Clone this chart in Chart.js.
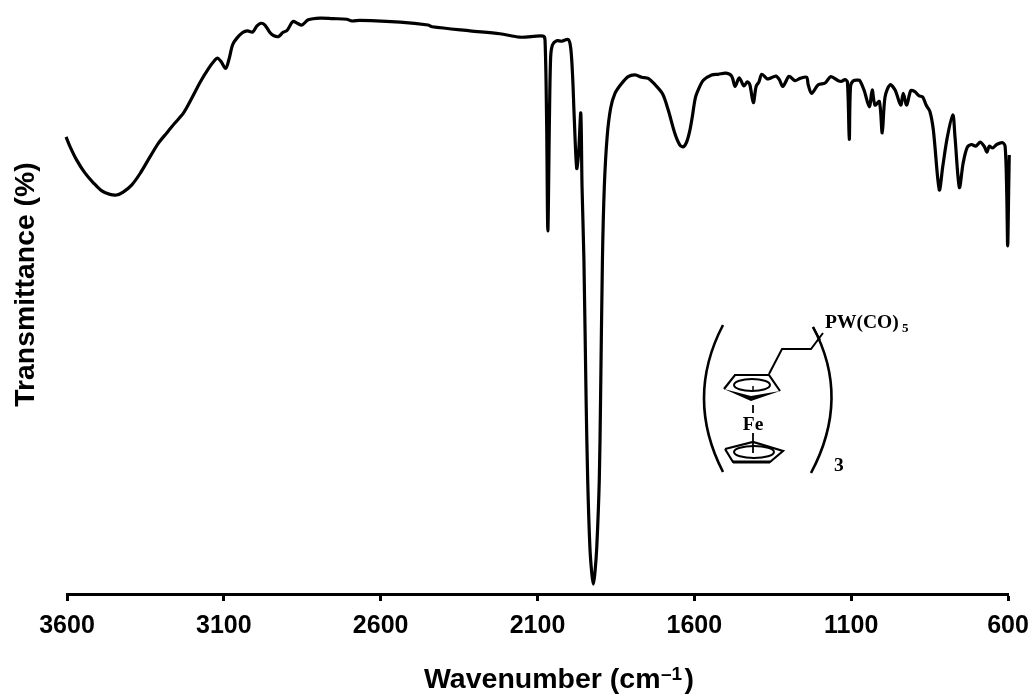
<!DOCTYPE html>
<html>
<head>
<meta charset="utf-8">
<title>IR spectrum</title>
<script src="https://cdn.jsdelivr.net/npm/chart.js@4"></script>
<style>
  html, body { margin: 0; padding: 0; background: #fff; }
  #wrap { width: 1034px; height: 698px; }
</style>
</head>
<body>
<div id="wrap"><canvas id="chart" width="1034" height="698"></canvas></div>
<script>
// wavenumber (cm-1) left to right
const wavenumber = [
  3603, 3590, 3569, 3543, 3516, 3489, 3463, 3442, 3421, 3394, 3367, 3335, 3309, 3282, 3256, 3229,
  3202, 3176, 3150, 3131, 3120, 3109, 3094, 3084, 3072, 3059, 3040, 3025, 3008, 2995, 2982, 2969,
  2953, 2942, 2926, 2912, 2898, 2880, 2866, 2851, 2831, 2793, 2752, 2708, 2692, 2666, 2538, 2449,
  2436, 2315, 2220, 2156, 2082, 2076, 2071, 2067, 2062, 2058, 2052, 2039, 2023, 2002, 1994, 1988,
  1983, 1975, 1969, 1962, 1958, 1952, 1945, 1940, 1933, 1927, 1922, 1917, 1911, 1903, 1899, 1893,
  1887, 1878, 1867, 1853, 1832, 1811, 1789, 1768, 1747, 1725, 1701, 1683, 1662, 1646, 1635, 1624,
  1614, 1607, 1596, 1582, 1571, 1545, 1524, 1499, 1481, 1470, 1457, 1442, 1431, 1423, 1412, 1403,
  1394, 1385, 1367, 1359, 1340, 1329, 1318, 1300, 1295, 1279, 1263, 1242, 1237, 1226, 1205, 1183,
  1165, 1141, 1130, 1120, 1112, 1106, 1102, 1093, 1077, 1072, 1059, 1042, 1033, 1024, 1010, 1001,
  992, 976, 960, 942, 934, 923, 910, 897, 884, 872, 861, 849, 838, 819, 808, 794,
  776, 769, 755, 743, 730, 716, 703, 689, 676, 667, 660, 649, 636, 617, 609, 604,
  601, 598, 596
];

// transmittance (%), same order
const transmittance = [
  78.8, 77.1, 74.8, 72.6, 70.9, 69.5, 68.9, 68.8, 69.3, 70.5, 72.5, 75.4, 77.7, 79.5, 81.2, 82.9,
  85.5, 88.2, 90.5, 91.9, 92.4, 91.8, 90.6, 92.1, 94.7, 95.8, 96.8, 97.1, 96.9, 97.9, 98.4, 98.1,
  96.8, 96.3, 96.1, 96.8, 97.2, 98.7, 98.4, 98.1, 99.0, 99.3, 99.2, 99.1, 98.8, 98.9, 98.6, 98.1,
  97.8, 97.1, 96.6, 96.0, 96.2, 95.5, 81.7, 62.6, 81.7, 92.6, 94.7, 95.4, 95.3, 95.6, 94.1, 89.2,
  82.3, 73.4, 76.0, 82.9, 70.2, 57.6, 33.4, 19.7, 8.1, 3.6, 1.7, 3.6, 8.1, 19.7, 33.4, 57.6,
  70.2, 78.8, 83.7, 86.3, 88.0, 89.2, 89.5, 89.1, 88.9, 87.8, 86.2, 83.4, 79.4, 77.4, 77.1, 78.0,
  80.0, 82.1, 85.7, 87.6, 88.6, 89.5, 89.6, 89.8, 89.3, 87.5, 89.0, 87.6, 88.3, 87.8, 84.7, 87.5,
  88.3, 89.6, 88.8, 88.9, 89.3, 88.7, 87.5, 89.2, 89.2, 88.5, 88.9, 89.1, 87.8, 86.3, 87.8, 88.1,
  89.2, 88.5, 88.4, 88.7, 88.3, 78.4, 87.5, 88.5, 88.6, 88.5, 86.9, 84.0, 86.9, 84.3, 84.9, 79.5,
  85.7, 87.8, 86.9, 84.3, 86.3, 84.3, 86.8, 86.6, 85.9, 85.7, 84.3, 83.2, 80.0, 69.7, 73.7, 78.6,
  82.6, 78.8, 70.1, 74.3, 77.0, 77.5, 77.2, 77.9, 77.2, 76.2, 77.2, 76.9, 77.5, 77.8, 77.1, 69.1,
  60.0, 69.1, 75.7
];

const xTicks = [3600, 3100, 2600, 2100, 1600, 1100, 600];
const xTitle = 'Wavenumber (cm';
const xTitleExp = '\u20131';
const yTitle = 'Transmittance (%)';

const points = wavenumber.map((w, i) => ({ x: w, y: transmittance[i] }));

// axis titles and the ferrocene drawing sit on top of the chart
const overlay = {
  id: 'overlay',
  afterDraw(chart) {
    const c = chart.ctx;
    c.save();
    c.fillStyle = '#000';
    c.strokeStyle = '#000';

    c.save();
    c.translate(33.5, 284.5);
    c.rotate(-Math.PI / 2);
    c.font = 'bold 28.4px "Liberation Sans"';
    c.textAlign = 'center';
    c.textBaseline = 'alphabetic';
    c.fillText(yTitle, 0, 0);
    c.restore();

    // x title: superscript has to be placed by hand
    c.textAlign = 'left';
    c.textBaseline = 'alphabetic';
    c.font = 'bold 28.5px "Liberation Sans"';
    c.fillText(xTitle, 424, 688);
    c.fillText(')', 684.5, 688);
    c.font = 'bold 19px "Liberation Sans"';
    c.fillText(xTitleExp, 661, 680);

    function line(pts, w) {
      c.lineWidth = w;
      c.beginPath();
      pts.forEach((p, i) => i ? c.lineTo(p[0], p[1]) : c.moveTo(p[0], p[1]));
      c.stroke();
    }

    // brackets
    c.lineWidth = 2.6;
    c.beginPath();
    c.moveTo(723, 325);
    c.quadraticCurveTo(685, 398, 723, 472);
    c.moveTo(813, 327);
    c.quadraticCurveTo(851, 398, 811, 473);
    c.stroke();

    // chain
    line([[769, 374], [782, 349], [811, 349], [823, 333]], 2);
    line([[813, 327], [820, 340]], 2);

    // upper ring
    line([[724, 389], [735, 375], [769, 375], [780, 391]], 2.2);
    c.beginPath();
    c.moveTo(724, 389);
    c.lineTo(751, 396);
    c.lineTo(780, 391);
    c.lineTo(751, 401);
    c.closePath();
    c.fill();
    c.lineWidth = 2;
    c.beginPath();
    c.ellipse(752, 385, 18, 6, 0, 0, Math.PI * 2);
    c.stroke();
    line([[753, 386], [753, 391]], 1.5);
    line([[753, 405], [753, 413]], 1.8);
    line([[753, 433], [753, 453]], 1.8);

    // lower ring
    line([[725, 449], [753, 442], [783, 451], [770, 462], [733, 462], [725, 449]], 2.2);
    line([[733, 462], [770, 462]], 3.2);
    c.lineWidth = 2;
    c.beginPath();
    c.ellipse(754, 452, 20, 6, 0, 0, Math.PI * 2);
    c.stroke();

    c.font = 'bold 19.5px "Liberation Serif"';
    c.fillText('PW(CO)', 825, 328);
    c.fillText('3', 834, 471);
    c.textAlign = 'center';
    c.fillText('Fe', 753, 430);
    c.textAlign = 'left';
    c.font = 'bold 13px "Liberation Serif"';
    c.fillText('5', 902, 332);
    c.restore();
  }
};

new Chart(document.getElementById('chart'), {
  type: 'scatter',
  data: {
    datasets: [{
      data: points,
      showLine: true,
      borderColor: '#000',
      borderWidth: 3.2,
      pointRadius: 0,
      tension: 0.3,
      clip: false
    }]
  },
  plugins: [overlay],
  options: {
    responsive: false,
    animation: false,
    layout: { padding: { left: 67, right: 26, top: 14, bottom: 0 } },
    plugins: { legend: { display: false }, tooltip: { enabled: false } },
    scales: {
      x: {
        type: 'linear',
        reverse: true,
        min: 600,
        max: 3600,
        afterBuildTicks: scale => { scale.ticks = xTicks.map(v => ({ value: v })); },
        afterFit: scale => { scale.height = 104; scale.paddingLeft = 0; scale.paddingRight = 0; },
        border: { display: true, color: '#000', width: 3 },
        grid: { drawOnChartArea: false, drawTicks: true, tickLength: 7, tickWidth: 3, tickColor: '#000' },
        ticks: {
          autoSkip: false,
          maxRotation: 0,
          padding: 10,
          color: '#000',
          font: { family: '"Liberation Sans"', size: 25, weight: 'bold' },
          callback: v => String(v)
        }
      },
      y: {
        display: false,
        min: 0,
        max: 100
      }
    }
  }
});
</script>
</body>
</html>
